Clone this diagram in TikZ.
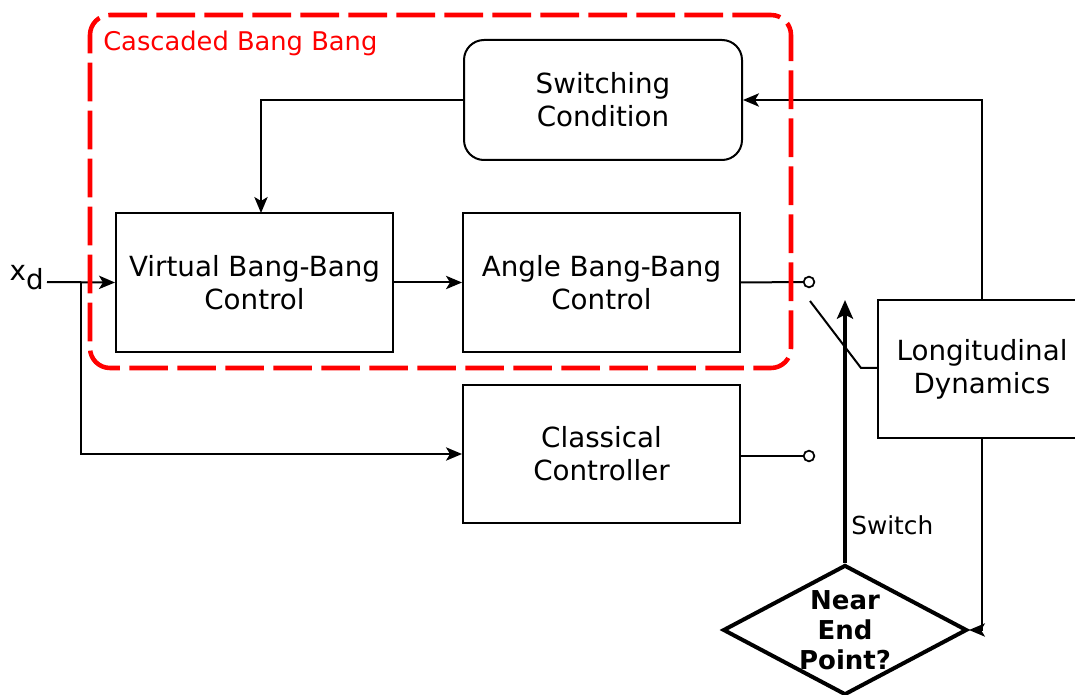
\documentclass[tikz,border=0pt]{standalone}
\usepackage{fontspec}
\setmainfont{DejaVu Sans}
\usetikzlibrary{arrows.meta,shapes.geometric}
\newcommand\boxfont{\fontsize{20.8pt}{24.75pt}\selectfont}
\newcommand\lblfont{\fontsize{19.3pt}{23pt}\selectfont}
\newcommand\swfont{\fontsize{18.6pt}{22pt}\selectfont}
\newcommand\dmfont{\fontsize{19.5pt}{22.5pt}\selectfont\bfseries}
\begin{document}
\begin{tikzpicture}[x=0.75pt,y=-0.75pt,
  blk/.style={draw, line width=1.5pt, align=center, font=\boxfont, inner sep=0pt},
  ln/.style={line width=1.5pt},
  arr/.style={line width=1.5pt, -{Stealth[length=12pt,width=10pt,inset=3pt]}},
  thickarr/.style={line width=3pt, -{Stealth[length=14pt,width=12pt,inset=3pt]}},
  term/.style={circle, draw, line width=1.3pt, minimum size=8pt, inner sep=0pt, fill=white},
  redbox/.style={draw=red, line width=3.4pt, rounded corners=15pt, dash pattern=on 29pt off 7pt, inner sep=0pt}
]
\useasboundingbox (0,0) rectangle (1075,695);
\clip (0,0) rectangle (1075,695);

% blocks
\node[blk, rounded corners=15pt, minimum width=278*0.75pt, minimum height=120*0.75pt] (sw) at (603,100) {Switching\\Condition};
\node[blk, minimum width=277*0.75pt, minimum height=139*0.75pt] (vbb) at (254.5,282.5) {Virtual Bang-Bang\\Control};
\node[blk, minimum width=277*0.75pt, minimum height=139*0.75pt] (abb) at (601.5,282.5) {Angle Bang-Bang\\Control};
\node[blk, minimum width=277*0.75pt, minimum height=138*0.75pt] (cc) at (601.5,454) {Classical\\Controller};
\node[blk, minimum width=208*0.75pt, minimum height=138*0.75pt] (ld) at (982,369) {Longitudinal\\Dynamics};
\node[draw, diamond, line width=3pt, minimum width=244*0.75pt, minimum height=130*0.75pt, inner sep=0pt] (dm) at (845,630) {};
\node[font=\dmfont, align=center] (dmt) at (845,630) {Near\\End\\Point?};

% input
\node[font=\boxfont, anchor=east, inner sep=0pt] (xd) at (44,278) {x\raisebox{-0.32em}{d}};
\coordinate (xin) at (47,282);
\coordinate (br) at (81,282);
\draw[arr] (xin) -- (vbb.west);
\draw[arr] (br) |- (cc.west);

\draw[arr] (vbb.east) -- (abb.east -| abb.west);

% terminals
\node[term] (t1) at (809,282) {};
\node[term] (t2) at (809,456) {};
\draw[ln] (abb.east) -- (t1.west);
\draw[ln] (cc.east |- t2) -- (t2.west);

% switch lever
\coordinate (lv1) at (810,301);
\coordinate (lv2) at (861,368);
\draw[ln] (lv1) -- (lv2) -- (lv2 -| ld.west);

% switch command
\coordinate (tip) at (845,300);
\draw[thickarr] (dm.north) -- (tip);
\node[font=\swfont, anchor=west, inner sep=0pt] (swl) at (851,525) {Switch};

% feedback
\draw[arr] (ld.north) |- (sw.east);
\draw[arr] (ld.south) |- (dm.east);
\coordinate (vbbin) at (261,213);
\draw[arr] (sw.west) -| (vbbin);

% cascaded group
\node[redbox, minimum width=701*0.75pt, minimum height=353*0.75pt] (grp) at (440.5,191.5) {};
\node[font=\lblfont, text=red, anchor=west, inner sep=0pt] (grpl) at (103,43) {Cascaded Bang Bang};
\end{tikzpicture}
\end{document}
